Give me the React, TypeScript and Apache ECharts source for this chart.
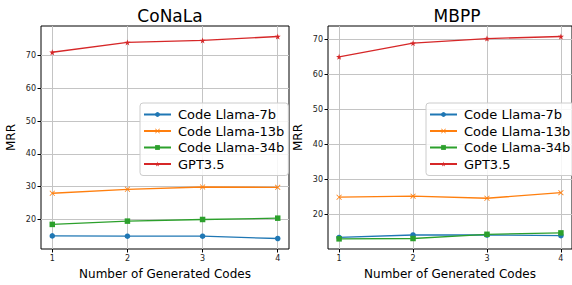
import React, { useEffect, useRef } from "react";
import * as echarts from "echarts";

const xValues = [1, 2, 3, 4];
const seriesNames = ["Code Llama-7b", "Code Llama-13b", "Code Llama-34b", "GPT3.5"];
const conala7b = [15.0, 14.9, 14.9, 14.2];
const conala13b = [28.0, 29.2, 29.9, 29.8];
const conala34b = [18.5, 19.5, 20.0, 20.4];
const conalaGpt = [71.0, 74.0, 74.6, 75.8];
const mbpp7b = [13.4, 14.1, 14.1, 13.9];
const mbpp13b = [24.9, 25.2, 24.6, 26.2];
const mbpp34b = [13.0, 13.1, 14.3, 14.7];
const mbppGpt = [65.0, 68.9, 70.2, 70.8];
const yTicks = [20, 30, 40, 50, 60, 70];
const titles = ["CoNaLa", "MBPP"];

const colors = ["#1f77b4", "#ff7f0e", "#2ca02c", "#d62728"];
const STAR =
  "path://M10,0L12.35,6.76L19.51,6.91L13.8,11.24L15.88,18.09L10,14L4.12,18.09L6.2,11.24L0.49,6.91L7.65,6.76Z";
const XMARK = "path://M1,0L5,4L9,0L10,1L6,5L10,9L9,10L5,6L1,10L0,9L4,5L0,1Z";
const symbols = ["circle", XMARK, "rect", STAR];
const symbolSizes = [5.5, 5.5, 5.5, 6];

const FONT = "DejaVu Sans";

export default function App() {
  const ref = useRef<HTMLDivElement>(null);
  useEffect(() => {
    if (!ref.current) return;
    const chart = echarts.init(ref.current, null, { renderer: "svg" });
    const data = [
      [conala7b, conala13b, conala34b, conalaGpt],
      [mbpp7b, mbpp13b, mbpp34b, mbppGpt],
    ];
    const yRanges = [
      [11.0, 79.0],
      [10.1, 73.8],
    ];
    const grids = [
      { left: 41, top: 26, width: 248, height: 229 },
      { left: 328, top: 26, width: 248, height: 229 },
    ];
    const series: any[] = [];
    data.forEach((group, gi) => {
      group.forEach((vals, si) => {
        series.push({
          type: "line",
          name: seriesNames[si],
          xAxisIndex: gi,
          yAxisIndex: gi,
          data: vals.map((v, i) => [xValues[i], v]),
          symbol: symbols[si],
          symbolSize: symbolSizes[si],
          showSymbol: true,
          color: colors[si],
          lineStyle: { width: 1.3, color: colors[si] },
          itemStyle: { color: colors[si] },
          z: 3,
        });
      });
    });
    const splitLine = { show: true, lineStyle: { color: "#c4c4c4", width: 1 } };
    const option: any = {
      animation: false,
      backgroundColor: "#fff",
      title: titles.map((t, i) => ({
        text: t,
        left: grids[i].left + grids[i].width / 2,
        top: 2,
        textAlign: "center",
        textStyle: { fontFamily: FONT, fontSize: 17, fontWeight: "normal", color: "#000" },
      })),
      grid: grids.map((g) => ({
        ...g,
        show: true,
        borderColor: "#000",
        borderWidth: 1,
        backgroundColor: "transparent",
      })),
      xAxis: grids.map((_, i) => ({
        type: "value",
        gridIndex: i,
        min: 0.85,
        max: 4.15,
        name: "Number of Generated Codes",
        nameLocation: "middle",
        nameGap: 19,
        nameTextStyle: { fontFamily: FONT, fontSize: 12, color: "#000" },
        axisLine: { show: false },
        axisTick: { show: true, length: 3.5, customValues: xValues, lineStyle: { color: "#000" } },
        axisLabel: {
          customValues: xValues,
          fontFamily: FONT,
          fontSize: 8,
          color: "#222",
          margin: 5,
        },
        splitLine,
      })),
      yAxis: grids.map((_, i) => ({
        type: "value",
        gridIndex: i,
        min: yRanges[i][0],
        max: yRanges[i][1],
        name: "MRR",
        nameLocation: "middle",
        nameGap: 24,
        nameTextStyle: { fontFamily: FONT, fontSize: 12, color: "#000" },
        axisLine: { show: false },
        axisTick: { show: true, length: 3.5, customValues: yTicks, lineStyle: { color: "#000" } },
        axisLabel: {
          customValues: yTicks,
          fontFamily: FONT,
          fontSize: 8,
          color: "#222",
          margin: 5,
        },
        splitLine,
      })),
      legend: [140, 426].map((left) => ({
        orient: "vertical",
        left,
        top: 103,
        itemWidth: 27,
        itemHeight: 6,
        itemGap: 3.5,
        padding: [5, 4, 5, 3],
        backgroundColor: "rgba(255,255,255,0.85)",
        borderColor: "#cccccc",
        borderWidth: 1,
        borderRadius: 3,
        data: seriesNames,
        textStyle: { fontFamily: FONT, fontSize: 13, color: "#000", padding: [0, 0, 0, 2] },
        selectedMode: false,
      })),
      series,
    };
    chart.setOption(option);
    return () => chart.dispose();
  }, []);
  return (
    <div
      ref={ref}
      style={{ position: "fixed", left: 0, top: 0, width: 572, height: 285, background: "#fff" }}
    />
  );
}
